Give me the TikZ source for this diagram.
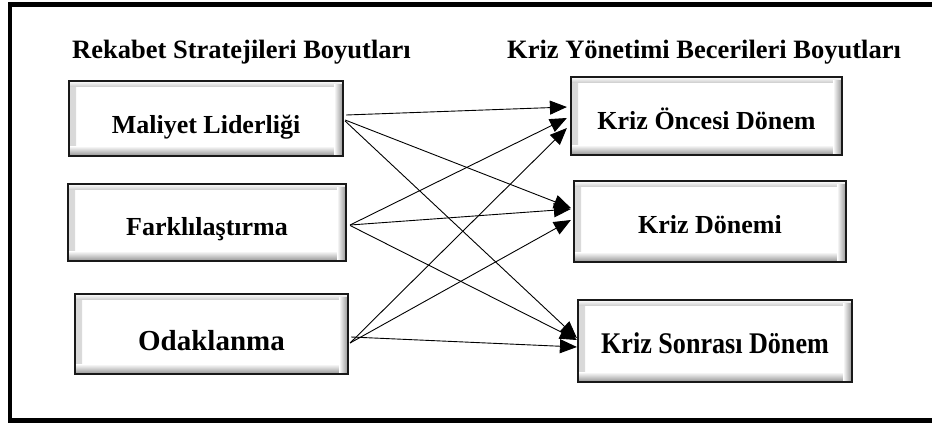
\documentclass[tikz,border=0pt]{standalone}
\usepackage{graphicx}
\usepackage{fontspec}
\setmainfont{Liberation Serif}
\usetikzlibrary{arrows.meta,calc}
\begin{document}
\begin{tikzpicture}[x=1pt,y=-1pt,
  box/.style={draw=black!90, line width=2.2pt, fill=white, inner sep=0pt,
    font=\fontsize{26}{30}\selectfont\bfseries, text height=26pt, text depth=0pt,
    path picture={
      \shade[left color=gray!30, right color=white]
        (path picture bounding box.north west) rectangle ([xshift=7pt]path picture bounding box.south west);
      \shade[top color=white, bottom color=gray!35]
        (path picture bounding box.north west) rectangle ([yshift=-5pt]path picture bounding box.north east);
      \shade[top color=white, bottom color=gray!85]
        ([yshift=10pt]path picture bounding box.south west) rectangle (path picture bounding box.south east);
      \shade[left color=white, right color=gray!85]
        ([xshift=-9pt,yshift=-3pt]path picture bounding box.north east) rectangle (path picture bounding box.south east);
    }},
  title/.style={anchor=base west, inner sep=0pt, font=\fontsize{26.5}{30}\selectfont\bfseries},
  arr/.style={draw=black, line width=0.9pt, -{Triangle[length=17pt,width=14pt]}}
]
\useasboundingbox (0,0) rectangle (932,423);
\clip (0,0) rectangle (932,423);

% outer frame (its right side runs off the page)
\draw[line width=4.8pt] (10,4.5) rectangle (945,420.5);

% column headings
\node[title] (tl) at (72,58) {Rekabet Stratejileri Boyutları};
\node[title] (tr) at (507,58) {Kriz Yönetimi Becerileri Boyutları};

% competitive strategy boxes
\node[box, minimum width=274pt, minimum height=75pt, text height=29pt] (L1) at (206,118.5) {Maliyet Liderliği};
\node[box, minimum width=278pt, minimum height=77pt, text height=25pt] (L2) at (207,222.5) {Farklılaştırma};
\node[box, minimum width=273pt, minimum height=80pt, text height=32pt,
      font=\fontsize{29}{32}\selectfont\bfseries] (L3) at (211.5,334) {Odaklanma};

% crisis management boxes
\node[box, minimum width=271pt, minimum height=78pt, text height=26pt] (R1) at (706.5,116) {Kriz Öncesi Dönem};
\node[box, minimum width=272pt, minimum height=81pt, text height=23pt] (R2) at (710,221.5) {Kriz Dönemi};
\node[box, minimum width=274pt, minimum height=82pt, text height=24pt,
      font=\fontsize{30}{33}\selectfont\bfseries] (R3) at (715,341) {\scalebox{0.87}[1]{Kriz Sonrası Dönem}};

% connectors
\draw[arr] ($(L1.east)+(2,-3.5)$) -- ($(R1.west)+(-3,-9)$);
\draw[arr] ($(L1.east)+(1,1.5)$) -- ($(R2.west)+(-2,-13.5)$);
\draw[arr] ($(L1.east)+(1,2.5)$) -- ($(R3.west)+(0,-3)$);

\draw[arr] ($(L2.east)+(3,2.5)$) -- ($(R1.west)+(-3,2)$);
\draw[arr] ($(L2.east)+(3,2.5)$) -- ($(R2.west)+(-2,-12.5)$);
\draw[arr] ($(L2.east)+(3,3)$) -- ($(R3.west)+(0,-1)$);

\draw[arr] ($(L3.east)+(1,9)$) -- ($(R1.west)+(-3,12)$);
\draw[arr] ($(L3.east)+(1,9)$) -- ($(R2.west)+(-2,-1.5)$);
\draw[arr] ($(L3.east)+(2,3)$) -- ($(R3.west)+(0,6)$);
\end{tikzpicture}
\end{document}
